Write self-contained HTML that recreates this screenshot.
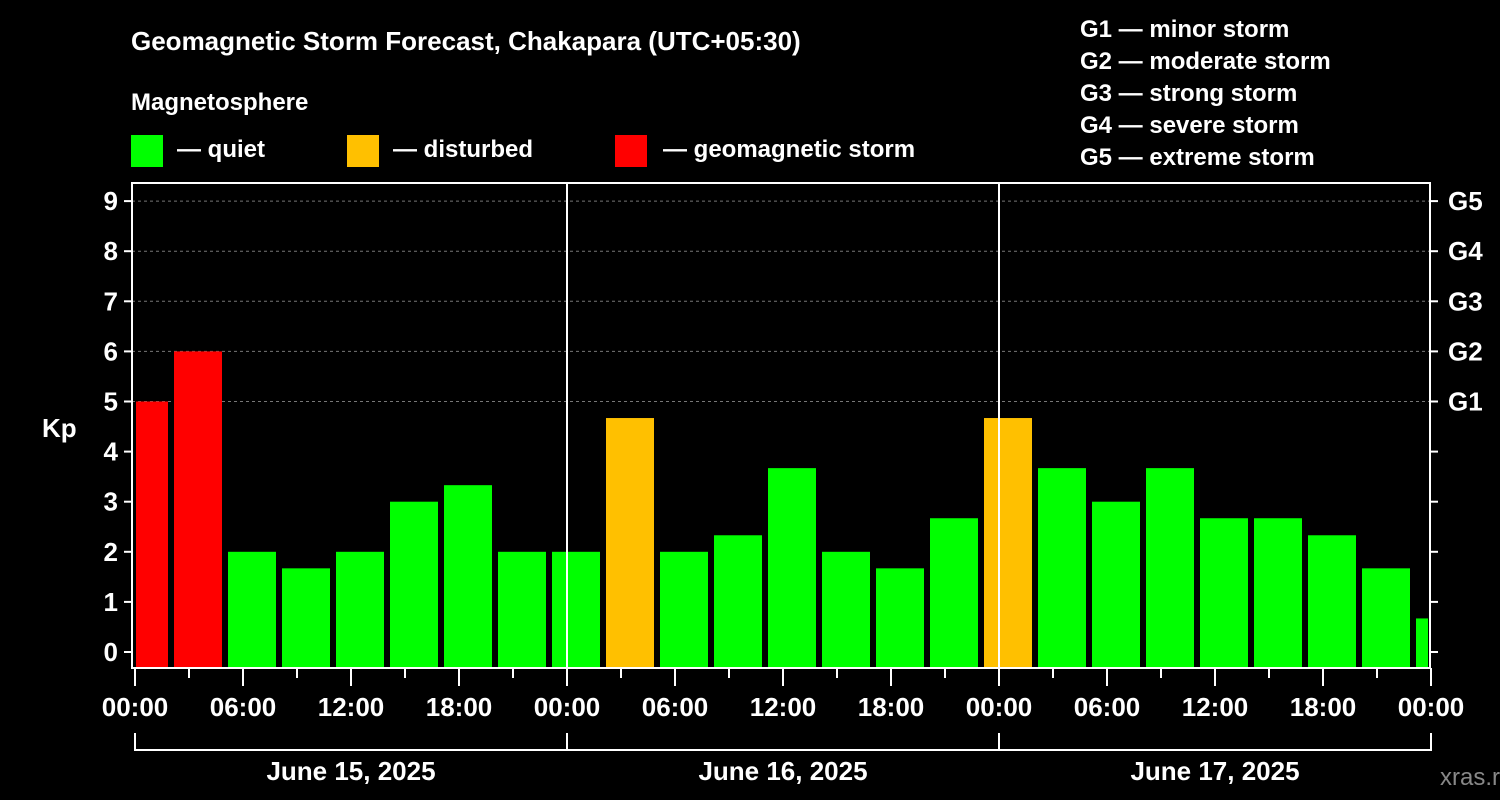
<!DOCTYPE html>
<html><head><meta charset="utf-8"><style>
html,body{margin:0;padding:0;background:#000;}
svg{display:block;font-family:"Liberation Sans",Arial,sans-serif;font-weight:bold;}
</style></head><body>
<svg id="chart" width="1500" height="800" viewBox="0 0 1500 800">
<text x="131" y="50" fill="#fff" font-size="26">Geomagnetic Storm Forecast, Chakapara (UTC+05:30)</text>
<text x="131" y="110" fill="#fff" font-size="24">Magnetosphere</text>
<g><rect x="131" y="135" width="32" height="32" fill="#00ff00"/><text x="177" y="157" fill="#fff" font-size="24">— quiet</text></g>
<g><rect x="347" y="135" width="32" height="32" fill="#ffc000"/><text x="393" y="157" fill="#fff" font-size="24">— disturbed</text></g>
<g><rect x="615" y="135" width="32" height="32" fill="#ff0000"/><text x="663" y="157" fill="#fff" font-size="24">— geomagnetic storm</text></g>
<g fill="#fff" font-size="24">
<text x="1080" y="37">G1 — minor storm</text>
<text x="1080" y="69">G2 — moderate storm</text>
<text x="1080" y="101">G3 — strong storm</text>
<text x="1080" y="133">G4 — severe storm</text>
<text x="1080" y="165">G5 — extreme storm</text>
</g>
<text x="42" y="437" fill="#fff" font-size="26">Kp</text>
<text x="1440" y="785" fill="#888" font-size="24" font-weight="normal">xras.ru</text>
<g id="grid"></g><g id="bars"></g><g id="axes"></g>
</svg>
<script>
const kpValues=[5,6,2,1.67,2,3,3.33,2,2,4.67,2,2.33,3.67,2,1.67,2.67,4.67,3.67,3,3.67,2.67,2.67,2.33,1.67,0.67];
const yTicks=[0,1,2,3,4,5,6,7,8,9];
const gLabels=["G1","G2","G3","G4","G5"];
const gLevels=[5,6,7,8,9];
const hourLabels=["00:00","06:00","12:00","18:00","00:00","06:00","12:00","18:00","00:00","06:00","12:00","18:00","00:00"];
const dayLabels=["June 15, 2025","June 16, 2025","June 17, 2025"];
const NS="http://www.w3.org/2000/svg";
const L=132,R=1430,T=183,B=668,X0=135,DAY=432;
const y=v=>652-v*50.1;
const x=h=>X0+h*DAY/24;
function mk(tag,attrs,parent){const e=document.createElementNS(NS,tag);for(const k in attrs)e.setAttribute(k,attrs[k]);parent.appendChild(e);return e;}
const grid=document.getElementById('grid'),bars=document.getElementById('bars'),axes=document.getElementById('axes');
gLevels.forEach((g,i)=>{
 const ln=mk('line',{x1:L,x2:R,y1:y(g),y2:y(g),stroke:'#777','stroke-dasharray':'3,3','stroke-width':1},grid);
 
 
});
kpValues.forEach((v,i)=>{
 let x1=Math.max(x(i*3)-15,L+4),x2=Math.min(x(i*3)+33,R-2);
 const c=v>=5?'#ff0000':(v>=4?'#ffc000':'#00ff00');
 const r=mk('rect',{x:x1,y:y(v),width:x2-x1,height:B-y(v),fill:c},bars);
 
 
});
[1,2].forEach(d=>{const l=mk('line',{x1:x(d*24),x2:x(d*24),y1:T,y2:B,stroke:'#fff','stroke-width':2},axes);
 
 });
const fr=mk('rect',{x:L,y:T,width:R-L,height:B-T,fill:'none',stroke:'#fff','stroke-width':2},axes);


yTicks.forEach(v=>{
 mk('line',{x1:L-8,x2:L,y1:y(v),y2:y(v),stroke:'#fff','stroke-width':2},axes);
 mk('line',{x1:R,x2:R+8,y1:y(v),y2:y(v),stroke:'#fff','stroke-width':2},axes);
 const t=mk('text',{x:L-14,y:y(v)+9,fill:'#fff','font-size':26,'text-anchor':'end'},axes);
 t.textContent=v;
 
 
});
gLevels.forEach((g,i)=>{
 const t=mk('text',{x:R+18,y:y(g)+9,fill:'#fff','font-size':26},axes);
 t.textContent=gLabels[i];
 
 
});
for(let h=0;h<=72;h+=3){
 const big=h%6===0;
 mk('line',{x1:x(h),x2:x(h),y1:B,y2:B+(big?18:10),stroke:'#fff','stroke-width':2},axes);
}
hourLabels.forEach((s,i)=>{
 const t=mk('text',{x:x(i*6),y:716,fill:'#fff','font-size':26,'text-anchor':'middle'},axes);
 t.textContent=s;
 
 
});
dayLabels.forEach((s,i)=>{
 mk('path',{d:`M${x(i*24)},733V750H${x(i*24+24)}V733`,fill:'none',stroke:'#fff','stroke-width':2},axes);
 const t=mk('text',{x:x(i*24+12),y:780,fill:'#fff','font-size':26,'text-anchor':'middle'},axes);
 t.textContent=s;
 
 
});
</script>
</body></html>
